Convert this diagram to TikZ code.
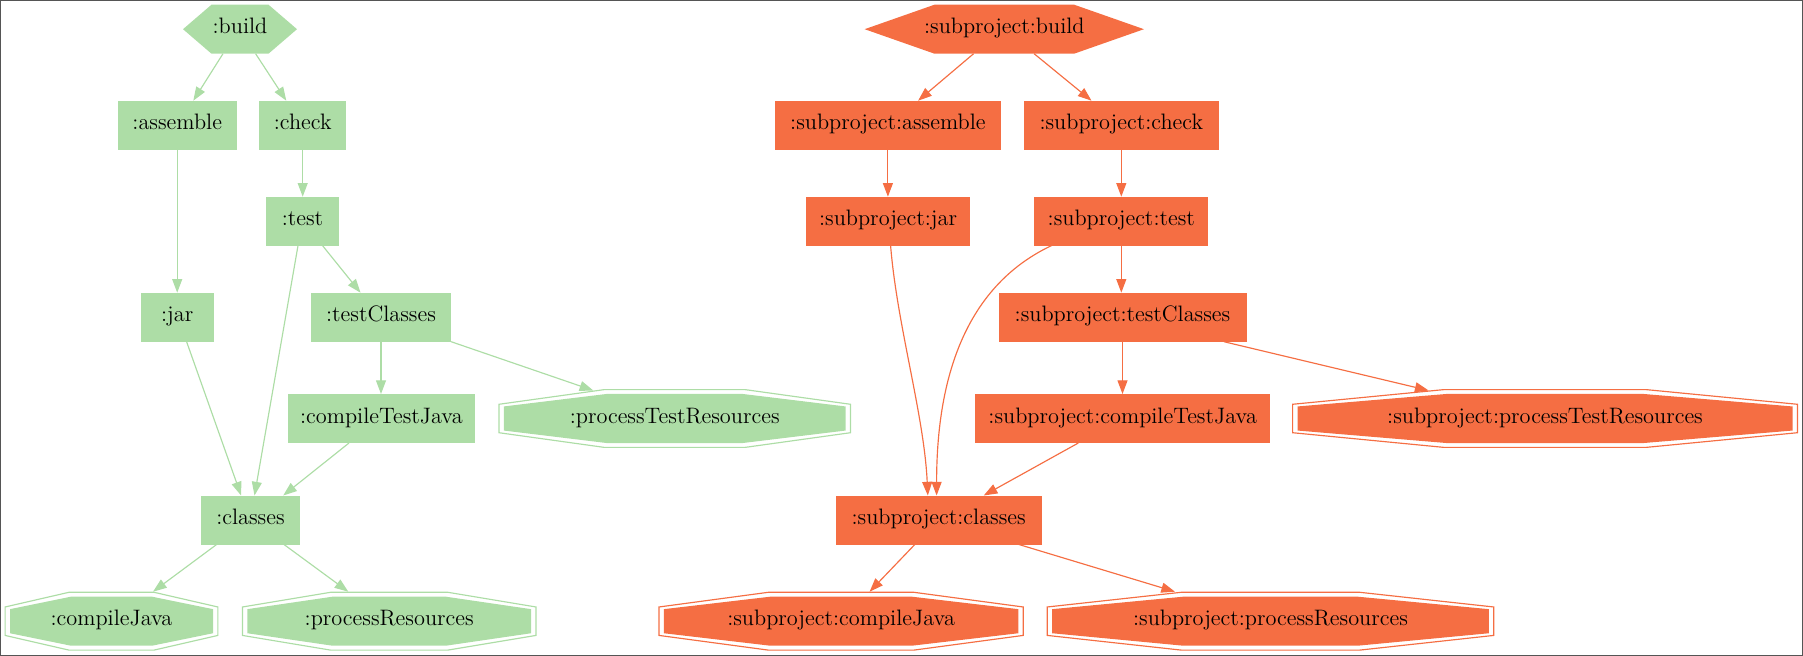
\documentclass[tikz,border=0pt]{standalone}
\usepackage{fontspec}
\usetikzlibrary{arrows.meta,calc}
\definecolor{gg}{RGB}{173,221,166}
\definecolor{oo}{RGB}{245,110,67}
\definecolor{framecol}{RGB}{85,85,85}
\newcommand\hexshape[5]{%
  \fill[#5] ({#1-(#3)/2},#2) -- ({#1-(#3)/4},{#2-(#4)/2}) -- ({#1+(#3)/4},{#2-(#4)/2}) -- ({#1+(#3)/2},#2)
    -- ({#1+(#3)/4},{#2+(#4)/2}) -- ({#1-(#3)/4},{#2+(#4)/2}) -- cycle;}
\newcommand\octpath[4]{%
  ({#1-(#3)/2},{#2-0.246*(#4)}) -- ({#1-0.2*(#3)},{#2-(#4)/2}) -- ({#1+0.2*(#3)},{#2-(#4)/2}) -- ({#1+(#3)/2},{#2-0.246*(#4)})
  -- ({#1+(#3)/2},{#2+0.246*(#4)}) -- ({#1+0.2*(#3)},{#2+(#4)/2}) -- ({#1-0.2*(#3)},{#2+(#4)/2}) -- ({#1-(#3)/2},{#2+0.246*(#4)}) -- cycle}
\newcommand\octshape[5]{%
  \draw[#5, line width=0.7pt] \octpath{#1}{#2}{#3-1.2}{#4-1.2};
  \fill[#5] \octpath{#1}{#2}{#3-11}{#4-10};}
\tikzset{
  every node/.style={font=\fontsize{13.4}{16}\selectfont, text height=9.3pt, text depth=3.6pt,
    inner sep=0pt, outer sep=0pt, text=black},
  box/.style={fill=#1, minimum height=29.4pt},
  plain/.style={minimum height=29.4pt},
  oct/.style={minimum height=35.4pt},
  wd/.style={minimum width=#1*0.6pt},
  conn/.style={draw=#1, line width=0.7pt, -{Triangle[length=8.2pt,width=6pt]}},
}
\begin{document}
\begin{tikzpicture}[x=0.6pt, y=-0.6pt]
\useasboundingbox (0,0) rectangle (1803,656);
\draw[framecol, line width=0.6pt] (0.5,0.5) rectangle (1802.5,655.5);

% ---------- green graph ----------
\hexshape{240}{29.2}{114}{49}{gg}
\node[plain, wd=114] (gbuild) at (240,29.2) {:build};
\node[box=gg, wd=118.6] (gassemble) at (177.2,125.2) {:assemble};
\node[box=gg, wd=86.5] (gcheck) at (302.7,125.2) {:check};
\node[box=gg, wd=73] (gtest) at (302.5,221.2) {:test};
\node[box=gg, wd=73] (gjar) at (177.2,317.2) {:jar};
\node[box=gg, wd=140.2] (gtestClasses) at (381,317.2) {:testClasses};
\node[box=gg, wd=186.4] (gcompileTestJava) at (381.4,418.5) {:compileTestJava};
\octshape{674.7}{418.5}{352.7}{59}{gg}
\node[oct, wd=352.7] (gprocessTestResources) at (674.7,418.5) {:processTestResources};
\node[box=gg, wd=98.4] (gclasses) at (250.5,520) {:classes};
\octshape{111.5}{621.2}{214}{59}{gg}
\node[oct, wd=214] (gcompileJava) at (111.5,621.2) {:compileJava};
\octshape{389.2}{621.2}{294.7}{59}{gg}
\node[oct, wd=294.7] (gprocessResources) at (389.2,621.2) {:processResources};

\draw[conn=gg] ($(gbuild.south)+(-17,0)$) -- ($(gassemble.north)+(16.1,0)$);
\draw[conn=gg] ($(gbuild.south)+(15.6,0)$) -- ($(gcheck.north)+(-16.4,0)$);
\draw[conn=gg] (gassemble.south) -- (gassemble.south |- gjar.north);
\draw[conn=gg] (gcheck.south) -- (gcheck.south |- gtest.north);
\draw[conn=gg] ($(gtest.south)+(-4.5,0)$) -- ($(gclasses.north)+(4,0)$);
\draw[conn=gg] ($(gtest.south)+(20.1,0)$) -- ($(gtestClasses.north)+(-20.5,0)$);
\draw[conn=gg] ($(gjar.south)+(9.4,0)$) -- ($(gclasses.north)+(-9.4,0)$);
\draw[conn=gg] (gtestClasses.south) -- (gtestClasses.south |- gcompileTestJava.north);
\draw[conn=gg] (gtestClasses.south east) -- ($(gprocessTestResources.center)+(-81.4,-28)$);
\draw[conn=gg] ($(gcompileTestJava.south)+(-32.4,0)$) -- ($(gclasses.north)+(32.7,0)$);
\draw[conn=gg] ($(gclasses.south)+(-33.9,0)$) -- ($(gcompileJava.north)+(41.5,0)$);
\draw[conn=gg] ($(gclasses.south)+(33.5,0)$) -- ($(gprocessResources.north)+(-40.9,0)$);

% ---------- orange graph ----------
\hexshape{1004.3}{29.2}{279.3}{49}{oo}
\node[plain, wd=279.3] (obuild) at (1004.3,29.2) {:subproject:build};
\node[box=oo, wd=226.6] (oassemble) at (887.9,125.2) {:subproject:assemble};
\node[box=oo, wd=194.5] (ocheck) at (1121.3,125.2) {:subproject:check};
\node[box=oo, wd=164.2] (ojar) at (888.1,221.2) {:subproject:jar};
\node[box=oo, wd=174.1] (otest) at (1121.3,221.2) {:subproject:test};
\node[box=oo, wd=248] (otestClasses) at (1122.5,317.2) {:subproject:testClasses};
\node[box=oo, wd=295] (ocompileTestJava) at (1122.7,418.5) {:subproject:compileTestJava};
\octshape{1545}{418.5}{506}{59}{oo}
\node[oct, wd=506] (oprocessTestResources) at (1545,418.5) {:subproject:processTestResources};
\node[box=oo, wd=206.2] (oclasses) at (938.7,520) {:subproject:classes};
\octshape{841.1}{621.2}{365.4}{59}{oo}
\node[oct, wd=365.4] (ocompileJava) at (841.1,621.2) {:subproject:compileJava};
\octshape{1270.5}{621.2}{447.6}{59}{oo}
\node[oct, wd=447.6] (oprocessResources) at (1270.5,621.2) {:subproject:processResources};

\draw[conn=oo] ($(obuild.south)+(-30.7,0)$) -- ($(oassemble.north)+(30.2,0)$);
\draw[conn=oo] ($(obuild.south)+(29.8,0)$) -- ($(ocheck.north)+(-29.8,0)$);
\draw[conn=oo] (oassemble.south) -- (oassemble.south |- ojar.north);
\draw[conn=oo] (ocheck.south) -- (ocheck.south |- otest.north);
\draw[conn=oo] ($(ojar.south)+(2.5,0)$) .. controls ($(ojar.south)+(9,80)$) and ($(oclasses.north)+(-14.5,-80)$) .. ($(oclasses.north)+(-10.9,0)$);
\draw[conn=oo] ($(otest.south)+(-70,0)$) .. controls ($(otest.south)+(-165,45)$) and ($(oclasses.north)+(-2.1,-100)$) .. ($(oclasses.north)+(-2.1,0)$);
\draw[conn=oo] (otest.south) -- (otest.south |- otestClasses.north);
\draw[conn=oo] (otestClasses.south) -- (otestClasses.south |- ocompileTestJava.north);
\draw[conn=oo] ($(otestClasses.south)+(101.4,0)$) -- ($(oprocessTestResources.center)+(-116.4,-28)$);
\draw[conn=oo] ($(ocompileTestJava.south)+(-44.4,0)$) -- ($(oclasses.north)+(45,0)$);
\draw[conn=oo] ($(oclasses.south)+(-23.9,0)$) -- ($(ocompileJava.north)+(28.5,0)$);
\draw[conn=oo] ($(oclasses.south)+(80.2,0)$) -- ($(oprocessResources.north)+(-95.5,0)$);
\end{tikzpicture}
\end{document}
